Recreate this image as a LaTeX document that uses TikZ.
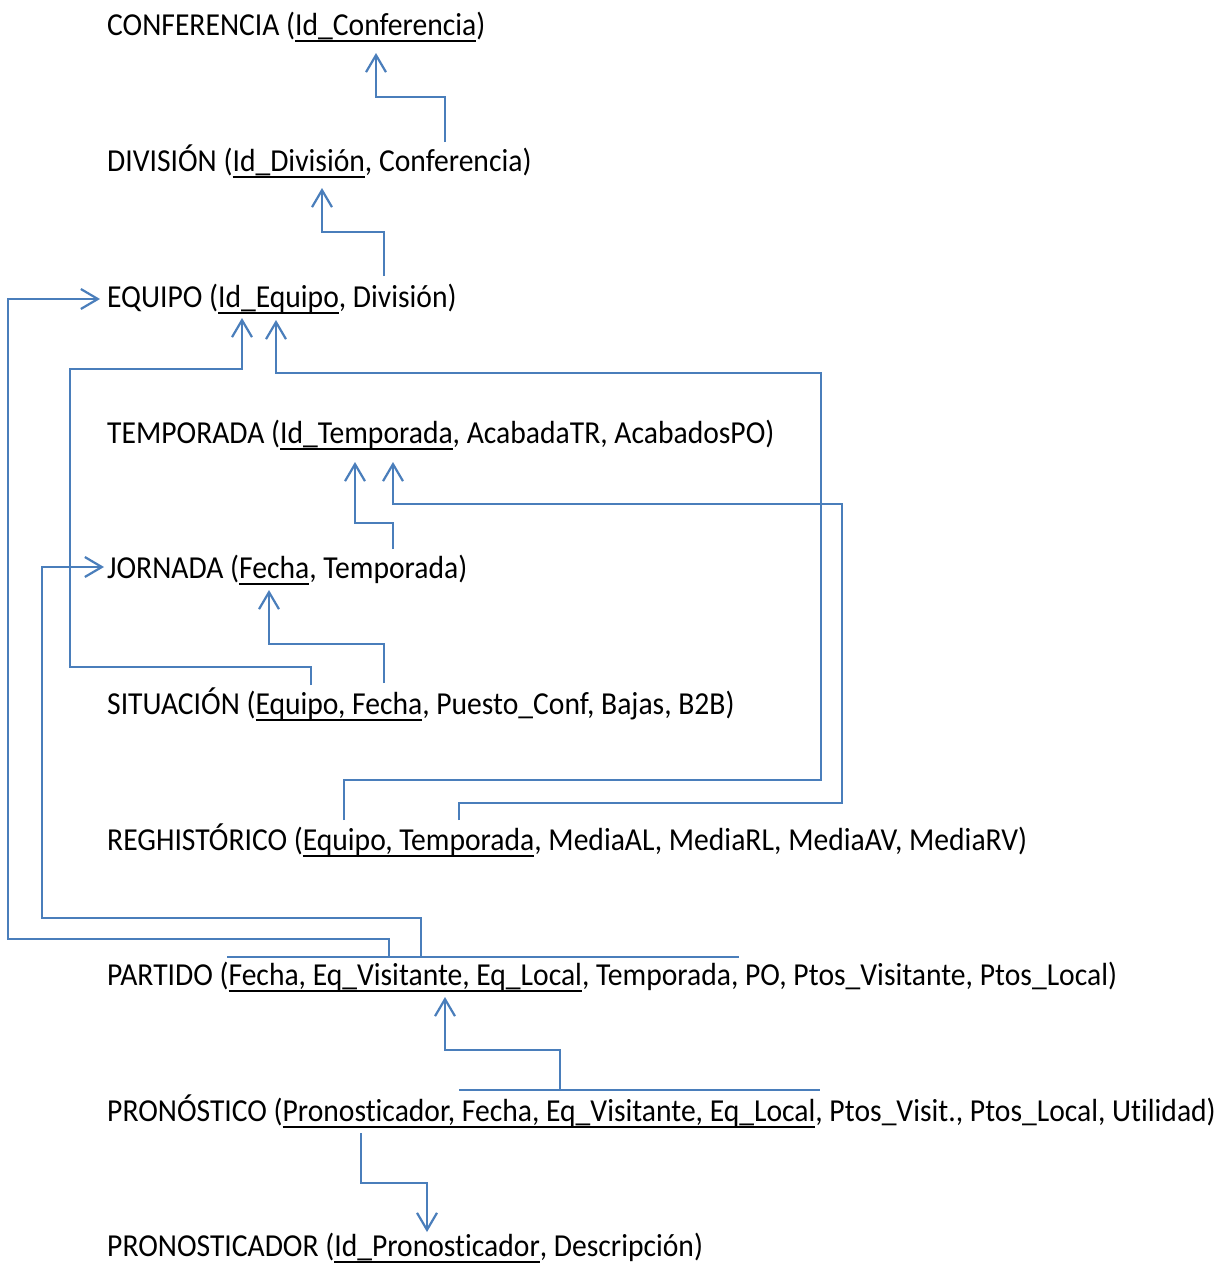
\documentclass[tikz,border=0pt]{standalone}
\usepackage{graphicx}
\usepackage{fontspec}
\setmainfont{Carlito}[Ligatures=NoCommon]
\usetikzlibrary{arrows.meta}
\definecolor{fkblue}{HTML}{4A7EBB}
% primary key: fixed-depth underline that runs through descenders
\newcommand\pk[1]{\setbox0\hbox{#1}\rlap{\rule[-6.5pt]{\wd0}{1.8pt}}\box0}
\newcommand\relrow[1]{\scalebox{0.925}[1]{#1}}
\begin{document}
\begin{tikzpicture}[x=1pt,y=-1pt,
  rel/.style={anchor=base west, inner sep=0pt, font=\fontsize{32}{38}\selectfont},
  fk/.style={draw=fkblue, line width=2.2pt, line join=miter,
    -{Straight Barb[length=17pt,width=20pt,line width=2.2pt]}},
  link/.style={draw=fkblue, line width=2.2pt, line join=miter}]
\useasboundingbox[fill=white] (0,0) rectangle (1220,1266);

% relations
\node[rel] (conf)  at (107,35)   {\relrow{CONFERENCIA (\pk{Id\_Conferencia})}};
\node[rel] (div)   at (107,171)  {\relrow{DIVISIÓN (\pk{Id\_División}, Conferencia)}};
\node[rel] (equ)   at (107,307)  {\relrow{EQUIPO (\pk{Id\_Equipo}, División)}};
\node[rel] (temp)  at (107,443)  {\relrow{TEMPORADA (\pk{Id\_Temporada}, AcabadaTR, AcabadosPO)}};
\node[rel] (jor)   at (107,578)  {\relrow{JORNADA (\pk{Fecha}, Temporada)}};
\node[rel] (sit)   at (107,714)  {\relrow{SITUACIÓN (\pk{Equipo, Fecha}, Puesto\_Conf, Bajas, B2B)}};
\node[rel] (reg)   at (107,850)  {\relrow{REGHISTÓRICO (\pk{Equipo, Temporada}, MediaAL, MediaRL, MediaAV, MediaRV)}};
\node[rel] (part)  at (107,985)  {\relrow{PARTIDO (\pk{Fecha, Eq\_Visitante, Eq\_Local}, Temporada, PO, Ptos\_Visitante, Ptos\_Local)}};
\node[rel] (pron)  at (107,1121) {\relrow{PRONÓSTICO (\pk{Pronosticador, Fecha, Eq\_Visitante, Eq\_Local}, Ptos\_Visit., Ptos\_Local, Utilidad)}};
\node[rel] (prdor) at (107,1256) {\relrow{PRONOSTICADOR (\pk{Id\_Pronosticador}, Descripción)}};

% attachment points of the foreign keys
\coordinate (conf-in)   at (376,53);
\coordinate (div-out)   at (445,142);
\coordinate (div-in)    at (322,188);
\coordinate (equ-out)   at (384,276);
\coordinate (equ-w)     at (100,299);
\coordinate (equ-in1)   at (242,318);
\coordinate (equ-in2)   at (276,320);
\coordinate (temp-in1)  at (355,462);
\coordinate (temp-in2)  at (393,462);
\coordinate (jor-out)   at (393,549);
\coordinate (jor-w)     at (104,567);
\coordinate (jor-in)    at (269,590);
\coordinate (sit-out1)  at (311,685);
\coordinate (sit-out2)  at (384,683);
\coordinate (reg-out1)  at (344,820);
\coordinate (reg-out2)  at (459,820);
\coordinate (part-l)    at (227,957);
\coordinate (part-r)    at (739,957);
\coordinate (part-out1) at (389,957);
\coordinate (part-out2) at (421,957);
\coordinate (part-in)   at (445,997);
\coordinate (pron-l)    at (459,1090);
\coordinate (pron-r)    at (820,1090);
\coordinate (pron-out1) at (560,1090);
\coordinate (pron-out2) at (361,1133);
\coordinate (prdor-in)  at (427,1232);

% DIVISIÓN -> CONFERENCIA
\draw[fk] (div-out) -- (div-out |- 0,97) -| (conf-in);
% EQUIPO -> DIVISIÓN
\draw[fk] (equ-out) -- (equ-out |- 0,232) -| (div-in);
% JORNADA -> TEMPORADA
\draw[fk] (jor-out) -- (jor-out |- 0,523) -| (temp-in1);
% SITUACIÓN -> JORNADA
\draw[fk] (sit-out2) -- (sit-out2 |- 0,644) -| (jor-in);
% SITUACIÓN -> EQUIPO
\draw[fk] (sit-out1) -- (sit-out1 |- 0,667) -| (70,369) -| (equ-in1);
% REGHISTÓRICO -> EQUIPO
\draw[fk] (reg-out1) -- (reg-out1 |- 0,780) -| (821,373) -| (equ-in2);
% REGHISTÓRICO -> TEMPORADA
\draw[fk] (reg-out2) -- (reg-out2 |- 0,803) -| (842,504) -| (temp-in2);
% PARTIDO -> EQUIPO and JORNADA
\draw[link] (part-l) -- (part-r);
\draw[fk] (part-out1) -- (part-out1 |- 0,939) -| (8,299) -- (equ-w);
\draw[fk] (part-out2) -- (part-out2 |- 0,918) -| (42,567) -- (jor-w);
% PRONÓSTICO -> PARTIDO
\draw[link] (pron-l) -- (pron-r);
\draw[fk] (pron-out1) -- (pron-out1 |- 0,1050) -| (part-in);
% PRONÓSTICO -> PRONOSTICADOR
\draw[fk] (pron-out2) -- (pron-out2 |- 0,1183) -| (prdor-in);
\end{tikzpicture}
\end{document}
